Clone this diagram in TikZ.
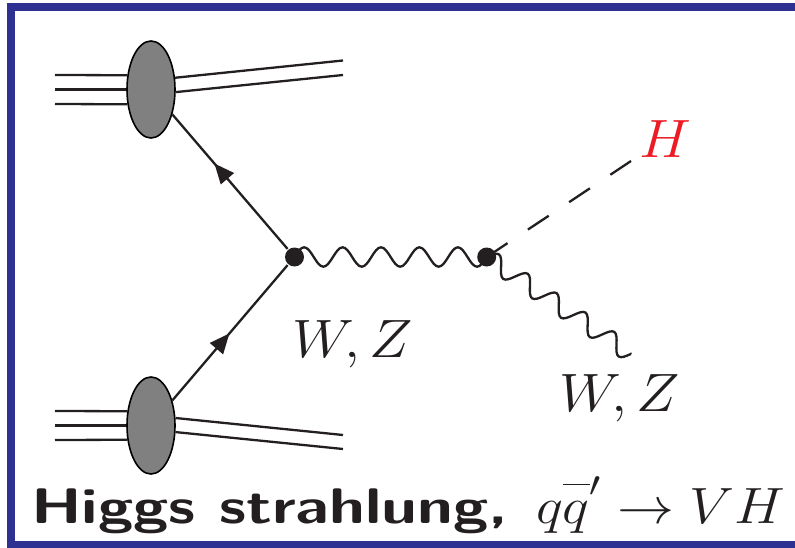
\RequirePackage{fix-cm}
\documentclass[tikz,border=0pt]{standalone}
\usepackage{amsmath}
\usepackage{tikz}
\usetikzlibrary{arrows.meta,shapes.geometric,decorations.markings}
\definecolor{blobgray}{RGB}{128,128,128}
\definecolor{frameblue}{RGB}{46,49,146}
\definecolor{inkblack}{RGB}{35,31,32}
\definecolor{higgsred}{RGB}{237,28,36}
\newcommand{\widened}[2]{\scalebox{#1}[1]{#2}}
\tikzset{
  proton/.style={ellipse,draw=black,fill=blobgray,line width=1.6pt,minimum width=48pt,minimum height=97pt,inner sep=0pt},
  vertexdot/.style={circle,fill=inkblack,minimum size=19pt,inner sep=0pt},
  quark/.style={postaction={decorate},decoration={markings,mark=at position #1 with {\arrow{Stealth[length=20pt,width=17pt,inset=0pt]}}}},
  label/.style={inner sep=0pt,anchor=base west,font=\fontsize{54}{60}\selectfont}
}
\begin{document}
\begin{tikzpicture}[
  x=1pt,y=-1pt,
  line width=2.3pt,draw=inkblack,text=inkblack]
  \useasboundingbox(0,0) rectangle (795,548);
  \draw[frameblue,line width=8pt](810,7.5)--(11,7.5)--(11,545)--(810,545);
  \node[proton](ptop) at(151,89.5){};\node[proton](pbot) at(151,425.5){};
  \node[vertexdot](vleft) at(294.5,257){};\node[vertexdot](vright) at(486.7,257){};
  \coordinate(a1) at(55,75);\coordinate(a2) at(55,89.5);\coordinate(a3) at(55,104);
  \coordinate(b1) at(343,60.5);\coordinate(b2) at(343,75);
  \coordinate(c1) at(55,411);\coordinate(c2) at(55,425.5);\coordinate(c3) at(55,440);
  \coordinate(d1) at(343,435);\coordinate(d2) at(343,449);
  \coordinate(hend) at(631,161);\coordinate(vend) at(631,354);
  \draw(a1)--(ptop.149);\draw(a2)--(ptop.180);\draw(a3)--(ptop.212);
  \draw(ptop.26)--(b1);\draw(ptop.-6)--(b2);
  \draw(c1)--(pbot.149);\draw(c2)--(pbot.180);\draw(c3)--(pbot.211);
  \draw(pbot.17)--(d1);\draw(pbot.-15)--(d2);
  \draw[quark=0.635](vleft)--(ptop);
  \draw[quark=0.495](pbot)--(vleft);
  \draw(vleft.center) \foreach \n in {1,...,5}{sin ++(9.61,-9.7) cos ++(9.61,9.7) sin ++(9.61,9.7) cos ++(9.61,-9.7)} --(vright.center);
  \draw[rotate=-33.9](vright.center) \foreach \n in {1,...,5}{sin ++(8.69,-9) cos ++(8.69,9) sin ++(8.69,9) cos ++(8.69,-9)} --(vend);
  \draw[dash pattern=on 25pt off 24.5pt](vright.center)--(hend);
  \node[label,text=higgsred](higgs) at(638,158){\widened{1.08}{$H$}};
  \node[label](wzmid) at(291,357){\widened{1.08}{$W,Z$}};
  \node[label](wzend) at(558,411){\widened{1.08}{$W,Z$}};
  \node[inner sep=0pt,anchor=base west,font=\fontsize{50}{54}\selectfont\sffamily\bfseries](title) at(30,523){\widened{1.28}{Higgs strahlung,}};
  \node[inner sep=0pt,anchor=base west,font=\fontsize{51}{54}\selectfont](proc) at(535,523){\widened{1.118}{$q\overline{\vphantom{H}q}'\to VH$}};
\end{tikzpicture}
\end{document}
